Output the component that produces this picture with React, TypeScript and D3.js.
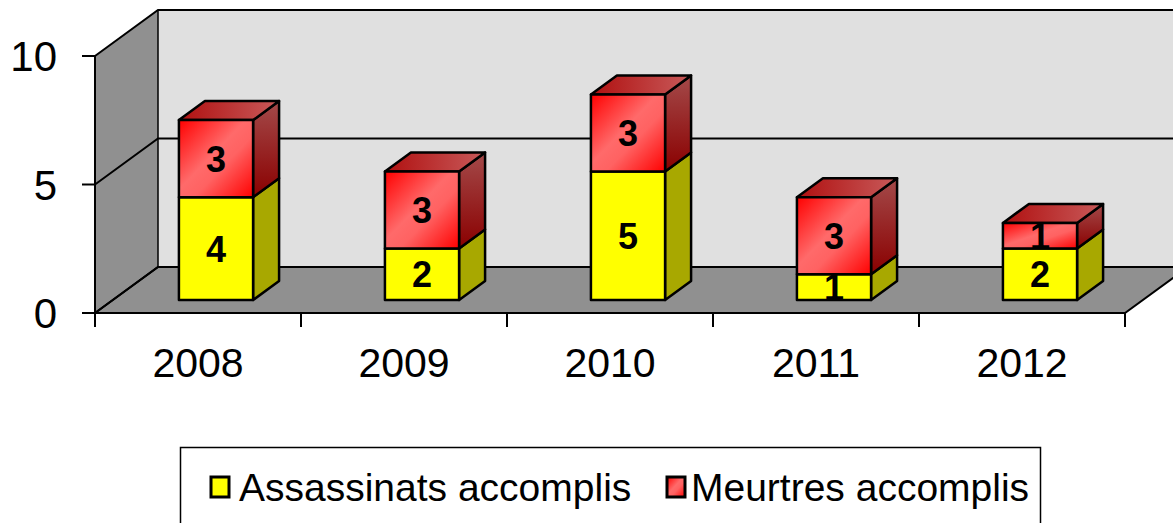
import React, { useEffect, useRef } from "react";
import * as d3 from "d3";

const years = ["2008", "2009", "2010", "2011", "2012"];
const assassinats = [4, 2, 5, 1, 2];
const meurtres = [3, 3, 3, 3, 1];
const yTicks = [0, 5, 10];
const seriesNames = ["Assassinats accomplis", "Meurtres accomplis"];

const App = () => {
  const node = useRef<SVGSVGElement | null>(null);

  useEffect(() => {
    const svg = d3.select(node.current);
    svg.selectAll("*").remove();

    const font = "Arial, 'Liberation Sans', sans-serif";
    const left = 95, right = 1125, bottom = 313, top = 56;
    const depth = { x: 63, y: -46 };
    const barDepth = { x: 26, y: -19 };
    const barShift = { x: 18, y: -13 };

    const x = d3.scaleBand().domain(years).range([left, right]).paddingInner(0.64).paddingOuter(0.32);
    const y = d3.scaleLinear().domain([0, 10]).range([bottom, top]);

    const defs = svg.append("defs");
    const grad = (id: string, x1: number, y1: number, x2: number, y2: number, stops: [number, string][]) => {
      const g = defs.append("linearGradient").attr("id", id)
        .attr("x1", x1).attr("y1", y1).attr("x2", x2).attr("y2", y2);
      stops.forEach(s => g.append("stop").attr("offset", s[0]).attr("stop-color", s[1]));
    };
    grad("redFront", 0, 0, 1, 1, [[0, "#ff0000"], [0.45, "#ff6a6a"], [0.6, "#ff6262"], [1, "#ff0000"]]);
    grad("redTop", 0, 0, 1, 0, [[0, "#b01010"], [1, "#c85a5a"]]);
    grad("redSide", 0, 0, 0, 1, [[0, "#a44a4a"], [1, "#8a0000"]]);

    const line = d3.line();

    // walls
    svg.append("path")
      .attr("d", line([[left, bottom], [left + depth.x, bottom + depth.y], [left + depth.x, y(10) + depth.y], [left, y(10)]]) + "Z")
      .attr("fill", "#909090");
    svg.append("rect")
      .attr("x", left + depth.x).attr("y", y(10) + depth.y)
      .attr("width", 1200).attr("height", bottom - y(10))
      .attr("fill", "#e0e0e0");
    svg.append("path")
      .attr("d", line([[left, bottom], [right, bottom], [right + depth.x, bottom + depth.y], [left + depth.x, bottom + depth.y]]) + "Z")
      .attr("fill", "#909090").attr("stroke", "#000").attr("stroke-width", 2);

    // gridlines
    yTicks.forEach(t => {
      svg.append("path")
        .attr("d", line([[left, y(t)], [left + depth.x, y(t) + depth.y], [1200, y(t) + depth.y]]))
        .attr("fill", "none").attr("stroke", "#000").attr("stroke-width", 2);
    });
    svg.append("line")
      .attr("x1", left + depth.x).attr("x2", left + depth.x)
      .attr("y1", y(10) + depth.y).attr("y2", bottom + depth.y)
      .attr("stroke", "#000").attr("stroke-width", 1.5);

    // bars
    const face = (pts: [number, number][], fill: string) =>
      svg.append("path").attr("d", line(pts) + "Z")
        .attr("fill", fill).attr("stroke", "#000").attr("stroke-width", 2.5).attr("stroke-linejoin", "round");

    years.forEach((yr, i) => {
      const x0 = (x(yr) as number) + barShift.x;
      const x1 = x0 + x.bandwidth();
      const segs = [
        { v0: 0, v1: assassinats[i], front: "#ffff00", side: "#a8a800", top: "#a8a800" },
        { v0: assassinats[i], v1: assassinats[i] + meurtres[i], front: "url(#redFront)", side: "url(#redSide)", top: "url(#redTop)" },
      ];
      segs.forEach((s, k) => {
        const yb = y(s.v0) + barShift.y;
        const yt = y(s.v1) + barShift.y;
        face([[x1, yb], [x1 + barDepth.x, yb + barDepth.y], [x1 + barDepth.x, yt + barDepth.y], [x1, yt]], s.side);
        if (k === segs.length - 1) {
          face([[x0, yt], [x0 + barDepth.x, yt + barDepth.y], [x1 + barDepth.x, yt + barDepth.y], [x1, yt]], s.top);
        }
        face([[x0, yb], [x1, yb], [x1, yt], [x0, yt]], s.front);
      });
      segs.forEach((s, k) => {
        const yb = y(s.v0) + barShift.y;
        const yt = y(s.v1) + barShift.y;
        svg.append("text")
          .attr("x", (x0 + x1) / 2).attr("y", (yb + yt) / 2)
          .attr("dy", "0.36em")
          .attr("text-anchor", "middle")
          .style("font-family", font).style("font-weight", "bold").style("font-size", "36px")
          .text(k === 0 ? assassinats[i] : meurtres[i]);
      });
    });

    // axes
    svg.append("line").attr("x1", left).attr("x2", left).attr("y1", y(10)).attr("y2", bottom)
      .attr("stroke", "#000").attr("stroke-width", 2);
    yTicks.forEach(t => {
      svg.append("line").attr("x1", left - 13).attr("x2", left).attr("y1", y(t)).attr("y2", y(t))
        .attr("stroke", "#000").attr("stroke-width", 2);
      svg.append("text")
        .attr("x", 57).attr("y", y(t)).attr("dy", "0.36em").attr("text-anchor", "end")
        .style("font-family", font).style("font-size", "42px")
        .text(t);
    });
    const step = x.step();
    d3.range(years.length + 1).forEach(j => {
      const tx = left + j * step;
      svg.append("line").attr("x1", tx).attr("x2", tx).attr("y1", bottom).attr("y2", bottom + 14)
        .attr("stroke", "#000").attr("stroke-width", 2);
    });
    years.forEach(yr => {
      svg.append("text")
        .attr("x", (x(yr) as number) + x.bandwidth() / 2).attr("y", 362.5).attr("dy", "0.36em")
        .attr("text-anchor", "middle")
        .style("font-family", font).style("font-size", "41px")
        .text(yr);
    });

    // legend
    svg.append("rect").attr("x", 180.5).attr("y", 447.5).attr("width", 860).attr("height", 100)
      .attr("fill", "#fff").attr("stroke", "#000").attr("stroke-width", 1.5);
    const legendItems = [
      { name: seriesNames[0], fill: "#ffff00", mx: 211, tx: 239 },
      { name: seriesNames[1], fill: "url(#redFront)", mx: 667, tx: 691 },
    ];
    legendItems.forEach(it => {
      svg.append("rect").attr("x", it.mx).attr("y", 477).attr("width", 18).attr("height", 20)
        .attr("fill", it.fill).attr("stroke", "#000").attr("stroke-width", 3);
      svg.append("text").attr("x", it.tx).attr("y", 487).attr("dy", "0.36em")
        .style("font-family", font).style("font-size", "39px")
        .text(it.name);
    });
  }, []);

  return (
    <svg ref={node} width={1173} height={523}
      style={{ position: "absolute", left: 0, top: 0, background: "#fff" }} />
  );
};

export default App;
